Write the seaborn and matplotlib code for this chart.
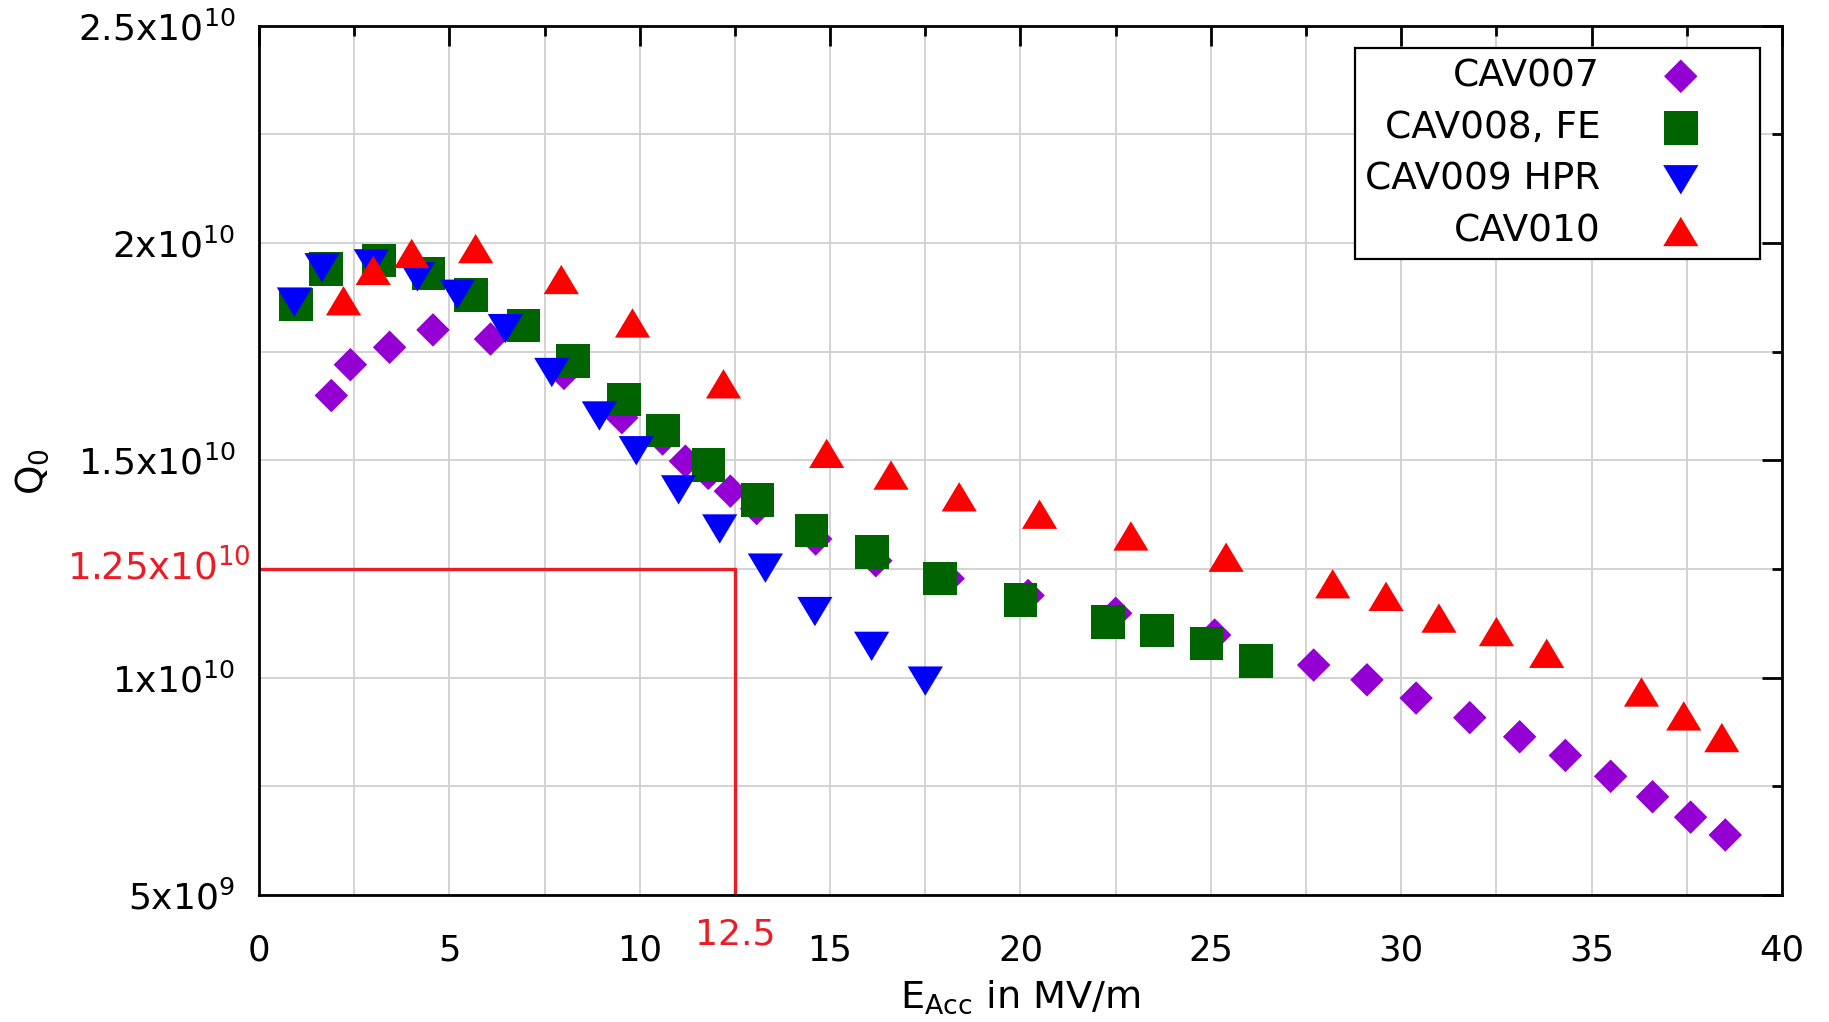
import numpy as np
import pandas as pd
import matplotlib
matplotlib.use("Agg")
import matplotlib.pyplot as plt
import matplotlib.transforms as mtransforms
from matplotlib.ticker import MultipleLocator, FixedLocator, FixedFormatter
import seaborn as sns

# ---------------- data ----------------
cav007_e = [1.9, 2.4, 3.43, 4.57, 6.08, 8.01, 9.53, 10.6, 11.2, 11.8, 12.38, 13.07,
            14.62, 16.2, 18.1, 20.2, 22.5, 25.1, 27.7, 29.1, 30.39, 31.8, 33.11,
            34.31, 35.5, 36.6, 37.6, 38.51]
cav007_q = [1.649e10, 1.72e10, 1.76e10, 1.80e10, 1.779e10, 1.70e10, 1.598e10, 1.549e10,
            1.498e10, 1.47e10, 1.429e10, 1.389e10, 1.319e10, 1.269e10, 1.228e10,
            1.189e10, 1.148e10, 1.098e10, 1.029e10, 0.995e10, 0.953e10, 0.908e10,
            0.864e10, 0.821e10, 0.773e10, 0.726e10, 0.679e10, 0.638e10]

cav008_e = [0.97, 1.76, 3.15, 4.45, 5.57, 6.95, 8.25, 9.59, 10.61, 11.81, 13.09, 14.51,
            16.1, 17.89, 20.0, 22.3, 23.59, 24.89, 26.19]
cav008_q = [1.859e10, 1.94e10, 1.96e10, 1.93e10, 1.88e10, 1.81e10, 1.729e10, 1.64e10,
            1.569e10, 1.489e10, 1.409e10, 1.338e10, 1.289e10, 1.228e10, 1.179e10,
            1.128e10, 1.108e10, 1.078e10, 1.038e10]

cav009_e = [0.93, 1.655, 2.95, 4.16, 5.21, 6.47, 7.69, 8.94, 9.91, 11.02, 12.1, 13.3,
            14.6, 16.09, 17.5]
cav009_q = [1.864e10, 1.943e10, 1.952e10, 1.922e10, 1.882e10, 1.803e10, 1.702e10,
            1.602e10, 1.522e10, 1.432e10, 1.342e10, 1.252e10, 1.152e10, 1.072e10,
            0.992e10]

cav010_e = [2.22, 3.0, 4.01, 5.69, 7.94, 9.81, 12.2, 14.91, 16.6, 18.39, 20.5, 22.9,
            25.4, 28.2, 29.6, 30.99, 32.5, 33.82, 36.31, 37.42, 38.42]
cav010_q = [1.867e10, 1.937e10, 1.976e10, 1.987e10, 1.916e10, 1.816e10, 1.676e10,
            1.516e10, 1.466e10, 1.416e10, 1.376e10, 1.326e10, 1.277e10, 1.216e10,
            1.187e10, 1.137e10, 1.106e10, 1.056e10, 0.967e10, 0.912e10, 0.862e10]

series_names = ["CAV007", "CAV008, FE", "CAV009 HPR", "CAV010"]

ref_e = 12.5
ref_q = 1.25e10

x_ticks = [0, 5, 10, 15, 20, 25, 30, 35, 40]
x_ticklabels = ["0", "5", "10", "15", "20", "25", "30", "35", "40"]
y_ticks = [5e9, 1e10, 1.5e10, 2e10, 2.5e10]
y_ticklabels = [r"5x10$^{9}$", r"1x10$^{10}$", r"1.5x10$^{10}$", r"2x10$^{10}$",
                r"2.5x10$^{10}$"]

# ---------------- style ----------------
sns.set_style("white")
plt.rcParams["font.family"] = ["DejaVu Sans"]
plt.rcParams["mathtext.fontset"] = "dejavusans"
plt.rcParams["text.color"] = "black"
plt.rcParams["axes.labelcolor"] = "black"
plt.rcParams["xtick.color"] = "black"
plt.rcParams["ytick.color"] = "black"

fig = plt.figure(figsize=(18.29, 10.22), dpi=100)
ax = fig.add_axes([0.1416, 0.1243, 0.8327, 0.8506])

tri_down = [(-1.2, 1.0), (1.2, 1.0), (0.0, -1.0), (-1.2, 1.0)]
tri_up = [(-1.2, -1.0), (1.2, -1.0), (0.0, 1.0), (-1.2, -1.0)]

styles = [
    ("#9400D3", "D", 291),
    ("#006400", "s", 582),
    ("#0000FF", tri_down, 642),
    ("#FF0000", tri_up, 642),
]
data = [(cav007_e, cav007_q), (cav008_e, cav008_q), (cav009_e, cav009_q), (cav010_e, cav010_q)]

for name, (xs, ys), (col, mk, s) in zip(series_names, data, styles):
    df = pd.DataFrame({"E": xs, "Q": ys})
    sns.scatterplot(data=df, x="E", y="Q", ax=ax, color=col, marker=mk, s=s,
                    linewidth=0, edgecolor="none", label=name, zorder=3)

red = "#ED1C24"
ax.plot([0, ref_e], [ref_q, ref_q], color=red, lw=2.4, zorder=2.5)
ax.plot([ref_e, ref_e], [5e9, ref_q], color=red, lw=2.4, zorder=2.5)

ax.set_xlim(0, 40)
ax.set_ylim(5e9, 2.5e10)

ax.xaxis.set_major_locator(FixedLocator(x_ticks))
ax.xaxis.set_major_formatter(FixedFormatter(x_ticklabels))
ax.xaxis.set_minor_locator(MultipleLocator(2.5))
ax.yaxis.set_major_locator(FixedLocator(y_ticks))
ax.yaxis.set_major_formatter(FixedFormatter(y_ticklabels))
ax.yaxis.set_minor_locator(MultipleLocator(2.5e9))

ax.grid(which="both", color="#d3d3d3", lw=1.4)
ax.set_axisbelow(True)

ax.tick_params(which="both", direction="in", top=True, right=True, width=2, color="black")
ax.tick_params(which="major", length=14.4)
ax.tick_params(which="minor", length=7.2)
ax.tick_params(axis="y", which="major", labelsize=26, pad=17)
ax.tick_params(axis="x", which="major", labelsize=25.5, pad=28)

for sp in ax.spines.values():
    sp.set_linewidth(2)
    sp.set_color("black")

ax.set_xlabel(r"E$_{\mathrm{Acc}}$ in MV/m", fontsize=27.5)
ax.set_ylabel(r"Q$_0$", fontsize=27)
ax.xaxis.set_label_coords(0.5, -0.118)
ax.xaxis.label.set_va("center")
ax.yaxis.set_label_coords(-0.149, 0.487)
ax.yaxis.label.set_va("center")

trans = mtransforms.blended_transform_factory(ax.transData, ax.transAxes)
ax.text(ref_e, -0.0455, "12.5", transform=trans, color=red, fontsize=26,
        ha="center", va="center")
ax.annotate(r"1.25x10$^{10}$", xy=(0, ref_q), xycoords=("axes fraction", "data"),
            xytext=(-6, 0), textcoords="offset points", ha="right", va="center",
            color=red, fontsize=26.7)

leg = ax.legend(loc="upper right", bbox_to_anchor=(0.9855, 0.9743), borderaxespad=0,
                markerfirst=False, fontsize=27, frameon=True, fancybox=False,
                edgecolor="black", framealpha=1, handlelength=3.68, handletextpad=0.31,
                borderpad=0.27, labelspacing=0.42, scatterpoints=1)
leg.get_frame().set_linewidth(1.6)
for t in leg.get_texts():
    t.set_color("black")

fig.savefig("out.png", dpi=100)
